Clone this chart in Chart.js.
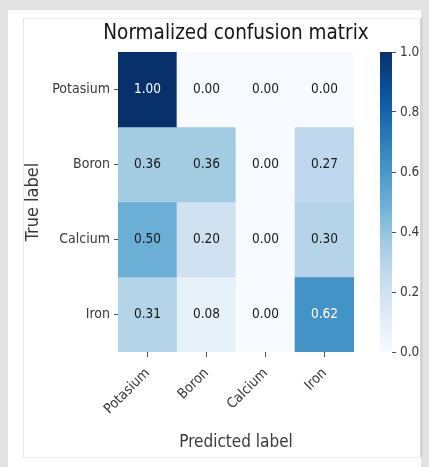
<!DOCTYPE html>
<html>
<head>
<meta charset="utf-8">
<script src="https://cdn.jsdelivr.net/npm/chart.js@4.4.1/dist/chart.umd.min.js"></script>
<style>
  html, body { margin: 0; padding: 0; }
  body { width: 429px; height: 467px; background: #e3e3e3; position: relative; overflow: hidden; }
  #panel { position: absolute; left: 8px; top: 10px; width: 413px; height: 457px; background: #ffffff; }
  #frame { position: absolute; left: 23px; top: 18px; width: 396px; height: 438px; background: #ffffff;
           border-left: 1px solid #e6e6e6; border-top: 1px solid #eeeeee; border-bottom: 1px solid #f0f0f0;
           border-right: 3px solid #d4d4d4; }
  #main { position: absolute; left: 0; top: 0; }
  #cbar { position: absolute; left: 360px; top: 0; }
</style>
</head>
<body>
<div id="panel"></div>
<div id="frame"></div>
<canvas id="main" width="385" height="467"></canvas>
<canvas id="cbar" width="60" height="467"></canvas>
<script>
// ---- data ----
const trueLabels = ['Potasium', 'Boron', 'Calcium', 'Iron'];
const predictedLabels = ['Potasium', 'Boron', 'Calcium', 'Iron'];
const potasiumRow = [1.00, 0.00, 0.00, 0.00];
const boronRow    = [0.36, 0.36, 0.00, 0.27];
const calciumRow  = [0.50, 0.20, 0.00, 0.30];
const ironRow     = [0.31, 0.08, 0.00, 0.62];
const colorbarTicks = [0.0, 0.2, 0.4, 0.6, 0.8, 1.0];
const chartTitle = 'Normalized confusion matrix';
const xTitle = 'Predicted label';
const yTitle = 'True label';

const rows = [potasiumRow, boronRow, calciumRow, ironRow];

// ---- matplotlib "Blues" colormap ----
const bluesStops = ['#f7fbff', '#deebf7', '#c6dbef', '#9ecae1', '#6baed6', '#4292c6', '#2171b5', '#08519c', '#08306b'];
function hexToRgb(h) { return [parseInt(h.slice(1,3),16), parseInt(h.slice(3,5),16), parseInt(h.slice(5,7),16)]; }
function blues(v) {
  const t = Math.max(0, Math.min(1, v)) * (bluesStops.length - 1);
  const i = Math.min(Math.floor(t), bluesStops.length - 2);
  const f = t - i;
  const a = hexToRgb(bluesStops[i]), b = hexToRgb(bluesStops[i + 1]);
  const c = a.map((x, k) => Math.round(x + (b[k] - x) * f));
  return `rgb(${c[0]},${c[1]},${c[2]})`;
}

const FONT = '"DejaVu Sans Condensed", "DejaVu Sans", sans-serif';
const TEXT = '#3a3a3a';
Chart.defaults.font.family = FONT;
Chart.defaults.color = TEXT;

const datasets = rows.map((row, i) => ({
  label: trueLabels[i],
  data: predictedLabels.map(() => [i, i + 1]),
  backgroundColor: row.map(v => blues(v)),
  borderWidth: 0,
  barPercentage: 1,
  categoryPercentage: 1,
  grouped: false
}));

const maxVal = Math.max(...rows.flat());
const cellText = {
  id: 'cellText',
  afterDatasetsDraw(chart) {
    const { ctx, scales: { x, y }, chartArea } = chart;
    ctx.save();
    ctx.font = '13.5px ' + FONT;
    ctx.textAlign = 'center';
    ctx.textBaseline = 'middle';
    rows.forEach((row, i) => {
      row.forEach((v, j) => {
        ctx.fillStyle = v > maxVal / 2 ? '#ffffff' : '#1a1a1a';
        ctx.fillText(v.toFixed(2), x.getPixelForValue(j), y.getPixelForValue(i + 0.5));
      });
    });
    // title centred over the matrix
    ctx.font = '20.5px ' + FONT;
    ctx.fillStyle = '#151515';
    ctx.textBaseline = 'middle';
    ctx.fillText(chartTitle, (chartArea.left + chartArea.right) / 2, chartArea.top - 18);
    ctx.restore();
  }
};

new Chart(document.getElementById('main'), {
  type: 'bar',
  data: { labels: predictedLabels, datasets },
  options: {
    responsive: false,
    animation: false,
    layout: { padding: { left: 19, right: 31, top: 52, bottom: 10 } },
    plugins: {
      legend: { display: false },
      tooltip: { enabled: false },
      title: { display: false }
    },
    scales: {
      x: {
        type: 'category',
        offset: true,
        grid: { drawOnChartArea: false, drawTicks: true, tickLength: 5, offset: false, color: '#555555' },
        border: { display: false },
        ticks: { minRotation: 45, maxRotation: 45, font: { size: 14 }, color: TEXT, padding: 8 },
        title: { display: true, text: xTitle, font: { size: 17 }, color: TEXT, padding: { top: 2, bottom: 4 } },
        afterFit: (s) => { s.height = 105; }
      },
      y: {
        type: 'linear',
        min: 0,
        max: 4,
        reverse: true,
        afterBuildTicks: (s) => { s.ticks = trueLabels.map((_, i) => ({ value: i + 0.5 })); },
        grid: { drawOnChartArea: false, drawTicks: true, tickLength: 4, color: '#555555' },
        border: { display: false },
        ticks: { font: { size: 14 }, color: TEXT, padding: 4, callback: (v) => trueLabels[Math.floor(v)] },
        title: { display: true, text: yTitle, font: { size: 18 }, color: TEXT, padding: { top: 4, bottom: 4 } },
        afterFit: (s) => { s.width = 99; }
      }
    }
  },
  plugins: [cellText]
});

// ---- colorbar ----
function gradientFill(context) {
  const { chart } = context;
  const { ctx, chartArea } = chart;
  if (!chartArea) return blues(0.5);
  const g = ctx.createLinearGradient(0, chartArea.bottom, 0, chartArea.top);
  bluesStops.forEach((c, k) => g.addColorStop(k / (bluesStops.length - 1), c));
  return g;
}

new Chart(document.getElementById('cbar'), {
  type: 'bar',
  data: { labels: [''], datasets: [{ data: [[0, 1]], backgroundColor: gradientFill, borderWidth: 0, barPercentage: 1, categoryPercentage: 1 }] },
  options: {
    responsive: false,
    animation: false,
    layout: { padding: { left: 20, right: 0, top: 52, bottom: 115 } },
    plugins: { legend: { display: false }, tooltip: { enabled: false } },
    scales: {
      x: { display: false },
      y: {
        position: 'right',
        min: 0,
        max: 1,
        afterBuildTicks: (s) => { s.ticks = colorbarTicks.map(v => ({ value: v })); },
        grid: { drawOnChartArea: false, drawTicks: true, tickLength: 4, color: '#555555' },
        border: { display: false },
        ticks: { font: { size: 13.5 }, color: TEXT, padding: 4, callback: (v) => Number(v).toFixed(1) },
        afterFit: (s) => { s.width = 28; }
      }
    }
  }
});
</script>
</body>
</html>
